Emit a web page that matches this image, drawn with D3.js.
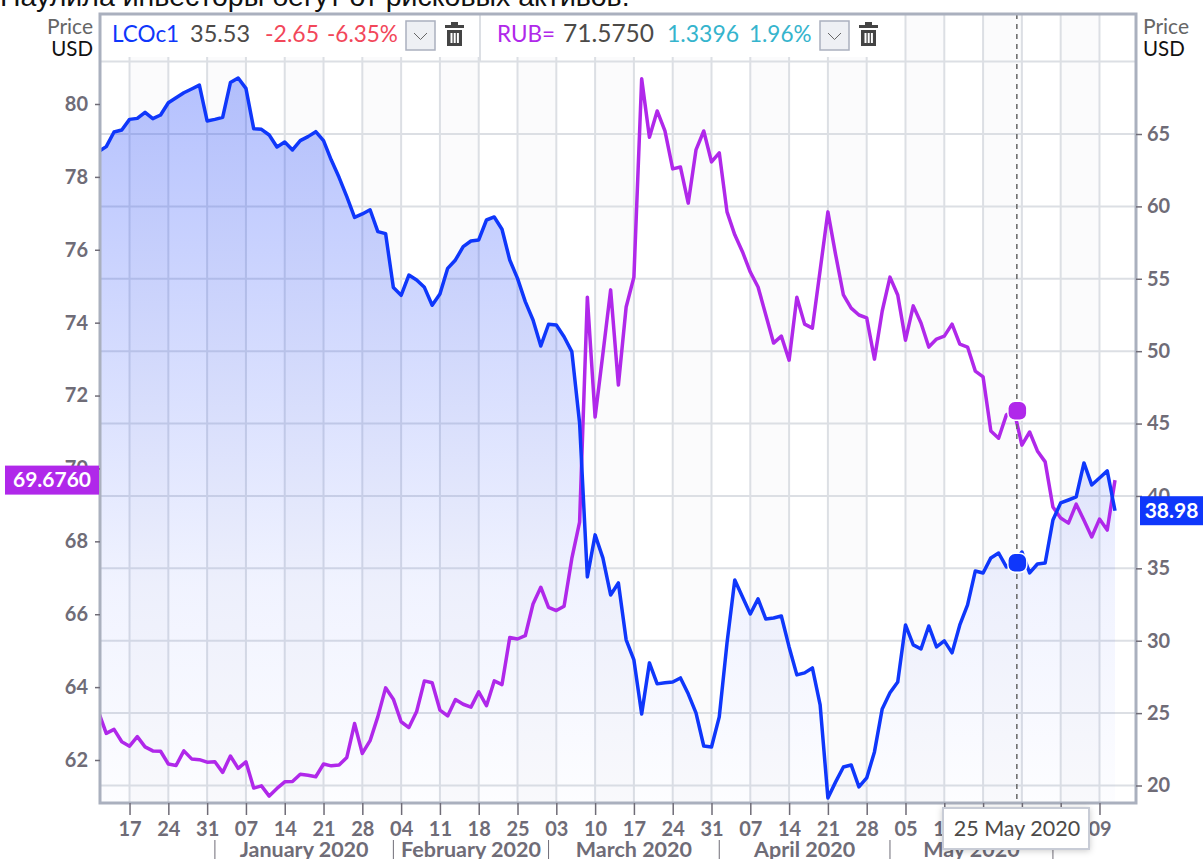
<!DOCTYPE html>
<html>
<head>
<meta charset="utf-8">
<script src="https://cdn.jsdelivr.net/npm/d3@7"></script>
<style>
  html, body { margin: 0; padding: 0; background: #fff; overflow: hidden; }
  svg { display: block; }
  text { font-family: Lato, "Open Sans", sans-serif; }
</style>
</head>
<body>
<div id="graph1"></div>
<script>
// trading sessions, one value per session, starting 11 Dec 2019
const lcoValues = [
  63.78, 64.13, 65.14, 65.28, 66.01, 66.08, 66.50, 66.06, 66.31, 67.16, 67.51, 67.85,
  68.11, 68.38, 65.90, 66.01, 66.15, 68.55, 68.87, 68.15, 65.37, 65.32, 64.93, 64.10,
  64.45, 63.90, 64.54, 64.82, 65.16, 64.54, 63.20, 62.01, 60.67, 59.24, 59.48, 59.77,
  58.26, 58.12, 54.39, 53.86, 55.26, 54.92, 54.41, 53.17, 53.95, 55.72, 56.30, 57.22,
  57.61, 57.68, 59.06, 59.27, 58.42, 56.30, 55.03, 53.42, 52.15, 50.36, 51.86, 51.81,
  51.00, 49.97, 45.04, 34.41, 37.31, 35.72, 33.16, 33.99, 30.06, 28.67, 24.94, 28.47,
  27.02, 27.09, 27.15, 27.43, 26.33, 25.01, 22.73, 22.66, 24.74, 29.85, 34.20, 33.02,
  31.85, 32.89, 31.50, 31.57, 31.71, 29.57, 27.64, 27.78, 28.12, 25.57, 19.14, 20.25,
  21.28, 21.42, 19.90, 20.52, 22.32, 25.29, 26.40, 27.15, 31.09, 29.71, 29.43, 31.02,
  29.57, 29.99, 29.16, 31.09, 32.47, 34.82, 34.68, 35.72, 36.06, 35.10, 35.38, 36.13,
  34.68, 35.30, 35.37, 38.34, 39.52, 39.72, 39.93, 42.28, 40.76, 41.24, 41.73, 38.98
];
const rubValues = [
  63.32, 62.73, 62.84, 62.50, 62.38, 62.64, 62.36, 62.25, 62.24, 61.89, 61.85, 62.25,
  62.03, 62.01, 61.94, 61.95, 61.66, 62.11, 61.77, 61.95, 61.23, 61.29, 61.01, 61.22,
  61.40, 61.41, 61.61, 61.58, 61.54, 61.89, 61.84, 61.86, 62.07, 63.00, 62.18, 62.53,
  63.19, 63.98, 63.67, 63.05, 62.89, 63.33, 64.17, 64.12, 63.37, 63.21, 63.66, 63.53,
  63.45, 63.87, 63.49, 64.17, 64.07, 65.36, 65.32, 65.41, 66.28, 66.74, 66.19, 66.10,
  66.22, 67.53, 68.53, 74.70, 71.41, 73.14, 74.90, 72.29, 74.43, 75.25, 80.69, 79.09,
  79.81, 79.26, 78.22, 78.27, 77.28, 78.74, 79.26, 78.41, 78.66, 77.04, 76.41, 75.94,
  75.39, 74.98, 74.21, 73.44, 73.63, 72.97, 74.70, 73.96, 73.85, 75.44, 77.04, 75.86,
  74.76, 74.40, 74.21, 74.13, 73.00, 74.32, 75.25, 74.76, 73.52, 74.46, 73.99, 73.33,
  73.55, 73.63, 73.96, 73.41, 73.33, 72.67, 72.51, 71.03, 70.83, 71.47, 71.58, 70.64,
  71.00, 70.48, 70.18, 68.94, 68.64, 68.50, 69.02, 68.58, 68.12, 68.61, 68.31, 69.68
];
const weekLabels = ["17", "24", "31", "07", "14", "21", "28", "04", "11", "18", "25", "03", "10",
  "17", "24", "31", "07", "14", "21", "28", "05", "12", "19", "26", "02", "09"];
const monthLabels = ["January 2020", "February 2020", "March 2020", "April 2020", "May 2020"];
const monthStarts = [15, 38, 58, 80, 102, 123]; // session index of first trading day
const leftTicks = [62, 64, 66, 68, 70, 72, 74, 76, 78, 80];
const rightTicks = [20, 25, 30, 35, 40, 45, 50, 55, 60, 65];
const gridValues = [20, 25, 30, 35, 40, 45, 50, 55, 60, 65, 70];

const hoverSession = 118.35, hoverLco = 35.38, hoverRub = 71.58;

const blue = "#0f37fb", purple = "#b028ea", gridColor = "#dcdfe4", frameColor = "#aab0be", tickColor = "#6f6c77";

const width = 1203, height = 859;
const plot = {left: 100, right: 1136, top: 14, bottom: 803};

var svg = d3.select("#graph1")
  .append("svg")
  .attr("width", width)
  .attr("height", height);

var defs = svg.append("defs");
defs.append("clipPath").attr("id", "plotClip")
  .append("rect")
  .attr("x", plot.left).attr("y", plot.top)
  .attr("width", plot.right - plot.left).attr("height", plot.bottom - plot.top);
var grad = defs.append("linearGradient").attr("id", "areaFill")
  .attr("gradientUnits", "userSpaceOnUse")
  .attr("x1", 0).attr("x2", 0).attr("y1", 78).attr("y2", plot.bottom);
grad.append("stop").attr("offset", 0).attr("stop-color", blue).attr("stop-opacity", 0.31);
grad.append("stop").attr("offset", 0.45).attr("stop-color", blue).attr("stop-opacity", 0.15);
grad.append("stop").attr("offset", 0.7).attr("stop-color", blue).attr("stop-opacity", 0.06);
grad.append("stop").attr("offset", 1).attr("stop-color", blue).attr("stop-opacity", 0.01);
var shadow = defs.append("filter").attr("id", "tipShadow")
  .attr("x", "-10%").attr("y", "-20%").attr("width", "120%").attr("height", "150%");
shadow.append("feDropShadow").attr("dx", 0).attr("dy", 1).attr("stdDeviation", 3)
  .attr("flood-color", "#000").attr("flood-opacity", 0.2);

// scales
var x = d3.scaleLinear().domain([0, 131]).range([98.5, 1115]);
var yLeft = d3.scaleLinear().domain([62, 80]).range([760, 104]);
var yRight = d3.scaleLinear().domain([20, 65]).range([785.5, 134]);

const weekTicks = weekLabels.map(function(d, i) { return 4 + i * 5; });

// alternating week bands
svg.append("g").selectAll("rect")
  .data(weekTicks.filter(function(d, i) { return i % 2 === 0; }))
  .enter()
  .append("rect")
  .attr("x", function(d) { return x(d); })
  .attr("y", plot.top)
  .attr("width", function(d) { return Math.min(x(d + 5), plot.right) - x(d); })
  .attr("height", plot.bottom - plot.top)
  .attr("fill", "#fbfbfc");

// grid
var grid = svg.append("g").attr("stroke", gridColor).attr("stroke-width", 2);
grid.selectAll("line.h")
  .data(gridValues)
  .enter()
  .append("line")
  .attr("x1", plot.left).attr("x2", plot.right)
  .attr("y1", function(d) { return yRight(d); })
  .attr("y2", function(d) { return yRight(d); });
grid.selectAll("line.v")
  .data(weekTicks)
  .enter()
  .append("line")
  .attr("class", "v")
  .attr("x1", function(d) { return x(d); })
  .attr("x2", function(d) { return x(d); })
  .attr("y1", plot.top).attr("y2", plot.bottom);

// LCO area under the line
var clipped = svg.append("g").attr("clip-path", "url(#plotClip)");
var area = d3.area()
  .x(function(d, i) { return x(i); })
  .y0(plot.bottom)
  .y1(function(d) { return yRight(d); });
clipped.append("path").datum(lcoValues)
  .attr("d", area)
  .attr("fill", "url(#areaFill)");

// legend strip
svg.append("rect")
  .attr("x", plot.left).attr("y", plot.top)
  .attr("width", 768).attr("height", 43)
  .attr("fill", "#fff");
svg.append("line")
  .attr("x1", 480).attr("x2", 480).attr("y1", plot.top).attr("y2", 62)
  .attr("stroke", gridColor).attr("stroke-width", 2);

function legendText(px, label, color, size) {
  svg.append("text")
    .attr("x", px).attr("y", 42)
    .attr("fill", color)
    .style("font-size", size + "px")
    .text(label);
}
legendText(112, "LCOc1", blue, 22.5);
legendText(190, "35.53", "#4c4a48", 23.5);
legendText(265, "-2.65", "#f2475a", 23);
legendText(327, "-6.35%", "#f2475a", 22.5);
legendText(497, "RUB=", purple, 22.5);
legendText(563, "71.5750", "#4c4a48", 24.5);
legendText(667, "1.3396", "#35b4cd", 23);
legendText(749, "1.96%", "#35b4cd", 22.5);

function legendButtons(px) {
  var g = svg.append("g").attr("transform", "translate(" + px + ",21)");
  g.append("rect")
    .attr("width", 29).attr("height", 29)
    .attr("fill", "#eef0f4").attr("stroke", frameColor).attr("stroke-width", 1.5);
  g.append("path").attr("d", "M8,12 L14.5,18.5 L21,12")
    .attr("fill", "none").attr("stroke", "#666").attr("stroke-width", 1);
  // trash can
  var t = g.append("g").attr("transform", "translate(39,1)").attr("fill", "#444");
  t.append("rect").attr("x", 6).attr("y", 0).attr("width", 7).attr("height", 3);
  t.append("rect").attr("x", 0).attr("y", 3).attr("width", 19).attr("height", 3);
  t.append("path").attr("d", "M2,8 H17 V24 H2 Z M5.5,11 V21 H7.5 V11 Z M8.7,11 V21 H10.7 V11 Z M11.9,11 V21 H13.9 V11 Z")
    .attr("fill-rule", "evenodd");
}
legendButtons(406);
legendButtons(820);

// series
var line = d3.line()
  .x(function(d, i) { return x(i); });
clipped.append("path").datum(rubValues)
  .attr("d", line.y(function(d) { return yLeft(d); }))
  .attr("fill", "none").attr("stroke", purple).attr("stroke-width", 3.5).attr("stroke-linejoin", "round");
clipped.append("path").datum(lcoValues)
  .attr("d", line.y(function(d) { return yRight(d); }))
  .attr("fill", "none").attr("stroke", blue).attr("stroke-width", 3.5).attr("stroke-linejoin", "round");

// crosshair and hover markers
svg.append("line")
  .attr("x1", x(hoverSession)).attr("x2", x(hoverSession))
  .attr("y1", plot.top).attr("y2", plot.bottom)
  .attr("stroke", "#666").attr("stroke-width", 1.5).attr("stroke-dasharray", "5,5");
function marker(cy, color) {
  svg.append("rect")
    .attr("x", x(hoverSession) - 9).attr("y", cy - 9.5)
    .attr("width", 19).attr("height", 19).attr("rx", 7)
    .attr("fill", color).attr("stroke", "#fff").attr("stroke-width", 1.5);
}
marker(yLeft(hoverRub), purple);
marker(yRight(hoverLco), blue);

// frame
svg.append("rect")
  .attr("x", plot.left).attr("y", plot.top)
  .attr("width", plot.right - plot.left).attr("height", plot.bottom - plot.top)
  .attr("fill", "none").attr("stroke", frameColor).attr("stroke-width", 3);

// axes
function styleAxis(g) {
  g.select("path.domain").remove();
  g.selectAll("g.tick line").attr("stroke", tickColor).attr("stroke-width", 1.5);
  g.selectAll("g.tick text")
    .attr("fill", tickColor)
    .style("font-family", "Lato, sans-serif")
    .style("font-size", "20px")
    .style("font-weight", "700");
}
svg.append("g")
  .attr("transform", "translate(" + plot.left + ",0)")
  .call(d3.axisLeft(yLeft).tickValues(leftTicks).tickSize(5).tickPadding(7))
  .call(styleAxis);
svg.append("g")
  .attr("transform", "translate(" + plot.right + ",0)")
  .call(d3.axisRight(yRight).tickValues(rightTicks).tickSize(6).tickPadding(5))
  .call(styleAxis);
svg.append("g")
  .attr("transform", "translate(0," + plot.bottom + ")")
  .call(d3.axisBottom(x).tickValues(weekTicks)
    .tickFormat(function(d, i) { return weekLabels[i]; })
    .tickSize(12).tickPadding(7))
  .call(styleAxis);

// month row
svg.append("g").selectAll("line")
  .data(monthStarts)
  .enter()
  .append("line")
  .attr("x1", function(d) { return x(d); })
  .attr("x2", function(d) { return x(d); })
  .attr("y1", 840).attr("y2", height)
  .attr("stroke", tickColor).attr("stroke-width", 1);
svg.append("g").selectAll("text")
  .data(monthLabels)
  .enter()
  .append("text")
  .attr("x", function(d, i) { return (x(monthStarts[i]) + x(monthStarts[i + 1])) / 2; })
  .attr("y", 857)
  .attr("text-anchor", "middle")
  .attr("fill", tickColor)
  .style("font-size", "21.5px")
  .style("font-weight", "700")
  .text(function(d) { return d; });

// Price / USD captions
function caption(px, anchor) {
  svg.append("text").attr("x", px).attr("y", 34).attr("text-anchor", anchor)
    .attr("fill", "#666").style("font-size", "21px").text("Price");
  svg.append("text").attr("x", px).attr("y", 56).attr("text-anchor", anchor)
    .attr("fill", "#111").style("font-size", "20.5px").text("USD");
}
caption(93, "end");
caption(1143, "start");

// last value flags
function flag(px, w, value, label, scale, color) {
  var cy = scale(value);
  svg.append("rect")
    .attr("x", px).attr("y", cy - 14.5)
    .attr("width", w).attr("height", 29)
    .attr("fill", color);
  svg.append("text")
    .attr("x", px + w / 2).attr("y", cy + 7)
    .attr("text-anchor", "middle")
    .attr("fill", "#fff")
    .style("font-size", "21px")
    .style("font-weight", "700")
    .text(label);
}
flag(5, 94, rubValues[rubValues.length - 1], "69.6760", yLeft, purple);
flag(1140, 63, lcoValues[lcoValues.length - 1], "38.98", yRight, blue);

// date tooltip
svg.append("rect")
  .attr("x", 943).attr("y", 808)
  .attr("width", 146).attr("height", 41)
  .attr("fill", "#fff").attr("stroke", "#c8ccd6").attr("stroke-width", 2)
  .attr("filter", "url(#tipShadow)");
svg.append("text")
  .attr("x", 1017).attr("y", 836)
  .attr("text-anchor", "middle")
  .attr("fill", "#4c4a48")
  .style("font-size", "21.5px")
  .text("25 May 2020");

// cropped headline above the chart
svg.append("text")
  .attr("x", 0).attr("y", 6)
  .attr("fill", "#111")
  .style("font-family", "'Liberation Sans', sans-serif")
  .style("font-size", "28.5px")
  .text("Наулила инвесторы бегут от рисковых активов.");
</script>
</body>
</html>
